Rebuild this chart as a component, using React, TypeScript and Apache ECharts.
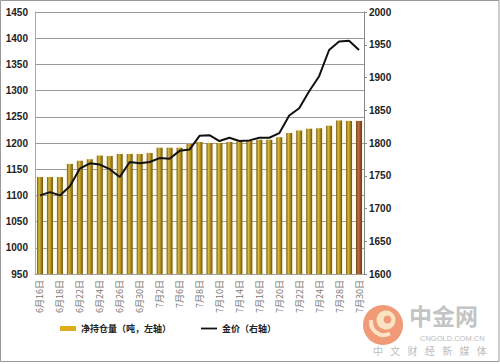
import React, { useEffect, useRef } from 'react';
import * as echarts from 'echarts';

const categories = [
  '6月16日', '6月17日', '6月18日', '6月19日', '6月22日', '6月23日', '6月24日', '6月25日', '6月26日', '6月29日', '6月30日',
  '7月1日', '7月2日', '7月3日', '7月6日', '7月7日', '7月8日', '7月9日', '7月10日', '7月13日', '7月14日', '7月15日',
  '7月16日', '7月17日', '7月20日', '7月21日', '7月22日', '7月23日', '7月24日', '7月27日', '7月28日', '7月29日', '7月30日',
];

const holdings = [
  1135, 1135, 1135, 1160, 1166, 1169, 1176, 1175, 1179, 1179, 1179,
  1181, 1191, 1191, 1191, 1198, 1202, 1200, 1200, 1202, 1203, 1205,
  1206, 1206, 1211, 1219, 1224, 1227, 1228, 1233, 1243, 1242, 1242,
];

const goldPrice = [
  1720, 1725, 1720, 1734, 1761, 1769, 1767, 1760, 1748, 1771, 1769,
  1771, 1777, 1776, 1788, 1790, 1811, 1812, 1803, 1808, 1803, 1804,
  1808, 1808, 1815, 1842, 1853, 1879, 1902, 1942, 1955, 1956, 1942,
];

const leftTicks = { min: 950, max: 1450, interval: 50 };
const rightTicks = { min: 1600, max: 2000, interval: 50 };

const seriesNames = ['净持仓量（吨，左轴）', '金价（右轴）'];
const watermarkTitle = '中金网';
const watermarkDomain = 'CNGOLD.COM.CN';
const watermarkSlogan = ['中', '文', '财', '经', '新', '媒', '体'];

const goldGrad = new echarts.graphic.LinearGradient(0, 0, 1, 0, [
  { offset: 0, color: '#735a0a' },
  { offset: 0.35, color: '#d8b844' },
  { offset: 0.65, color: '#ab8b1a' },
  { offset: 1, color: '#6a520a' },
]);
const copperGrad = new echarts.graphic.LinearGradient(0, 0, 1, 0, [
  { offset: 0, color: '#7a3e1c' },
  { offset: 0.4, color: '#b8703e' },
  { offset: 1, color: '#6e3618' },
]);

export default function App() {
  const ref = useRef<HTMLDivElement>(null);
  useEffect(() => {
    const chart = echarts.init(ref.current!, null, { renderer: 'svg' });
    const last = holdings.length - 1;
    const sloganEls = watermarkSlogan.map((ch, i) => ({
      type: 'text',
      x: 373 + i * 17.3,
      y: 345,
      style: { text: ch, fill: '#bcbcbc', font: '10px "Noto Sans CJK SC"' },
      z: 10,
    }));
    chart.setOption({
      animation: false,
      backgroundColor: '#ffffff',
      grid: { left: 35, right: 136, top: 12, bottom: 90 },
      legend: {
        left: 55,
        top: 319,
        itemGap: 30,
        itemWidth: 16,
        itemHeight: 5,
        symbolKeepAspect: true,
        textStyle: { fontSize: 9, fontWeight: 'bold', color: '#222', fontFamily: '"Noto Sans CJK SC"' },
        data: [
          { name: seriesNames[0], icon: 'rect', itemStyle: { color: '#dcae1e' } },
          { name: seriesNames[1], icon: 'path://M0,0H18V2H0Z', itemStyle: { color: '#111' } },
        ],
      },
      xAxis: {
        type: 'category',
        data: categories,
        boundaryGap: true,
        axisLine: { show: true, lineStyle: { color: '#999', width: 1 } },
        axisTick: { show: false },
        axisLabel: {
          interval: 1,
          rotate: 90,
          fontSize: 9,
          color: '#777',
          margin: 6,
          fontFamily: '"Noto Sans CJK SC"',
        },
      },
      yAxis: [
        {
          type: 'value',
          min: leftTicks.min,
          max: leftTicks.max,
          interval: leftTicks.interval,
          axisLine: { show: true, lineStyle: { color: '#aaa' } },
          axisTick: { show: false },
          axisLabel: {
            fontSize: 10, fontWeight: 'bold', color: '#222', margin: 7, fontFamily: '"Liberation Sans"',
            formatter: (v: number) => String(v),
          },
          splitLine: { show: true, lineStyle: { color: '#9a9a9a', width: 1 } },
        },
        {
          type: 'value',
          min: rightTicks.min,
          max: rightTicks.max,
          interval: rightTicks.interval,
          position: 'right',
          axisLine: { show: true, lineStyle: { color: '#888' } },
          axisTick: { show: true, length: 3, lineStyle: { color: '#888' } },
          axisLabel: {
            fontSize: 10, fontWeight: 'bold', color: '#222', margin: 5, fontFamily: '"Liberation Sans"',
            formatter: (v: number) => String(v),
          },
          splitLine: { show: false },
        },
      ],
      series: [
        {
          name: seriesNames[0],
          type: 'bar',
          yAxisIndex: 0,
          barWidth: '60%',
          itemStyle: {
            color: goldGrad,
            shadowColor: 'rgba(235,205,100,0.35)',
            shadowBlur: 3,
          },
          data: holdings.map((v, i) => (i === last ? { value: v, itemStyle: { color: copperGrad } } : v)),
        },
        {
          name: seriesNames[1],
          type: 'line',
          yAxisIndex: 1,
          symbol: 'none',
          lineStyle: { color: '#111', width: 2 },
          itemStyle: { color: '#111' },
          data: goldPrice,
          z: 5,
        },
      ],
      graphic: [
        {
          type: 'rect',
          shape: { x: 0.5, y: 0.5, width: 498.5, height: 361 },
          style: { fill: 'none', stroke: '#999', lineWidth: 1 },
          silent: true,
        },
        {
          type: 'circle',
          shape: { cx: 383, cy: 325, r: 20 },
          style: { fill: '#f09a78' },
          z: 10,
        },
        {
          type: 'circle',
          shape: { cx: 386, cy: 320, r: 9.5 },
          style: { fill: '#fbe4c4' },
          z: 11,
        },
        {
          type: 'circle',
          shape: { cx: 387.5, cy: 319.5, r: 4 },
          style: { fill: '#f09a78' },
          z: 12,
        },
        {
          type: 'arc',
          shape: { cx: 384, cy: 322, r: 13, startAngle: Math.PI * 0.35, endAngle: Math.PI * 1.05 },
          style: { stroke: '#fbe4c4', lineWidth: 4, fill: 'none' },
          z: 11,
        },
        {
          type: 'text',
          x: 409,
          y: 315,
          style: {
            text: watermarkTitle, fill: '#c4c4c4', font: 'bold 23px "Noto Sans CJK SC"',
            verticalAlign: 'middle', lineHeight: 23,
          },
          z: 10,
        },
        {
          type: 'text',
          x: 420,
          y: 338,
          style: {
            text: watermarkDomain, fill: '#bcbcbc', font: '7.5px "Liberation Sans"',
            verticalAlign: 'middle', lineHeight: 8,
          },
          z: 10,
        },
        ...sloganEls,
      ],
    });
    return () => chart.dispose();
  }, []);
  return (
    <div
      ref={ref}
      style={{ position: 'absolute', left: 0, top: 0, width: 500, height: 364, background: '#fff' }}
    />
  );
}
